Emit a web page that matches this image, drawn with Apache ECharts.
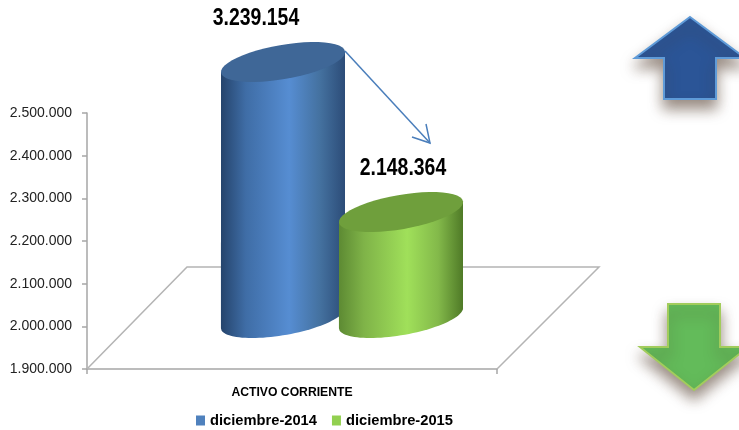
<!DOCTYPE html>
<html lang="es">

<head>
  <meta charset="UTF-8">
  <title>Activo corriente</title>
  <style>
    html, body { margin: 0; padding: 0; background: #fff; }
    #root { width: 739px; height: 430px; }
  </style>
</head>

<body>
  <div id="root"></div>
  <script src="https://cdn.jsdelivr.net/npm/echarts@6/dist/echarts.min.js"></script>
  <script>
    const categories = ['ACTIVO CORRIENTE']
    const periods = ['diciembre-2014', 'diciembre-2015']
    const values2014 = [3239154]
    const values2015 = [2148364]

    const yMin = 1900000
    const yMax = 2500000
    const yStep = 100000

    const font = '"Liberation Sans", sans-serif'

    // the cylinders stand in the middle of the floor, so they sit above the axis
    const depth = 51
    const A = 62.9, B = 17.1, TILT = 9.9 * Math.PI / 180
    const HALF = 62, SKEW = 10

    // point on the tilted ellipse
    function ell(cx, cy, t) {
      return [
        cx + A * Math.cos(t) * Math.cos(TILT) + B * Math.sin(t) * Math.sin(TILT),
        cy - A * Math.cos(t) * Math.sin(TILT) + B * Math.sin(t) * Math.cos(TILT)
      ]
    }

    function arc(cx, cy, from, to) {
      let pts = []
      for (let i = 0; i <= 48; i++) pts.push(ell(cx, cy, from + (to - from) * i / 48))
      return pts
    }

    function hGrad(stops) {
      return {
        type: 'linear', x: 0, y: 0, x2: 1, y2: 0,
        colorStops: stops.map(s => ({ offset: s[0], color: s[1] }))
      }
    }

    function cylinder(offsetX, bodyStops, topColor, labelDx) {
      return function (params, api) {
        const val = api.value(1)
        const base = api.coord([api.value(0), yMin])
        const top = api.coord([api.value(0), Math.min(val, yMax)])
        const cx = base[0] + offsetX
        const by = base[1] - depth
        const ty = top[1] - depth
        const t0 = Math.atan2(B * Math.sin(TILT), A * Math.cos(TILT))

        const body = arc(cx, by, t0, t0 + Math.PI)
        body.push([cx - HALF, ty + SKEW], [cx + HALF, ty - SKEW])

        return {
          type: 'group',
          children: [
            { type: 'polygon', shape: { points: body }, style: { fill: hGrad(bodyStops) } },
            { type: 'polygon', shape: { points: arc(cx, ty, 0, Math.PI * 2) }, style: { fill: topColor } },
            {
              type: 'text',
              x: cx + labelDx,
              y: ty - 44,
              scaleX: 0.81,
              style: {
                text: String(val).replace(/\B(?=(\d{3})+$)/g, '.'),
                font: 'bold 24px ' + font,
                fill: '#000',
                align: 'center',
                verticalAlign: 'middle'
              }
            }
          ]
        }
      }
    }

    // floor of the 3d chart, hung on the plot rectangle
    function floor(params) {
      const r = params.coordSys
      const x = r.x, y = r.y + r.height, w = r.width
      const points = [[x, y], [x + 100, y - 102], [x + 512, y - 102], [x + w, y]]
      return {
        type: 'polyline',
        shape: { points: points },
        style: { fill: 'none', stroke: '#b4b4b4', lineWidth: 1.5 }
      }
    }

    const arrowShadow = { shadowBlur: 14, shadowOffsetX: 0, shadowOffsetY: 9, shadowColor: 'rgba(70,45,30,0.55)' }

    let myChart = echarts.init(document.getElementById('root'))

    let option = {
      backgroundColor: '#fff',
      animation: false,
      grid: { left: 87, right: 242, top: 113, bottom: 61 },
      legend: {
        data: periods,
        left: 196,
        top: 413,
        padding: 0,
        itemWidth: 9,
        itemHeight: 10,
        itemGap: 15,
        icon: 'rect',
        textStyle: { fontFamily: font, fontWeight: 'bold', fontSize: 14.7, color: '#000' }
      },
      xAxis: {
        type: 'category',
        data: categories,
        axisLine: { lineStyle: { color: '#a6a6a6', width: 1.5 } },
        axisTick: { show: true, length: 5, lineStyle: { color: '#a6a6a6', width: 1.5 } },
        axisLabel: { fontFamily: font, fontWeight: 'bold', fontSize: 12.2, color: '#000', margin: 18 }
      },
      yAxis: {
        type: 'value',
        min: yMin,
        max: yMax,
        interval: yStep,
        splitLine: { show: false },
        axisLine: { show: true, lineStyle: { color: '#a6a6a6', width: 1.5 } },
        axisTick: { show: true, length: 5, lineStyle: { color: '#a6a6a6', width: 1.5 } },
        axisLabel: {
          fontFamily: font,
          fontSize: 14,
          color: '#222',
          margin: 15,
          formatter: v => String(v).replace(/\B(?=(\d{3})+$)/g, '.')
        }
      },
      series: [
        {
          type: 'custom',
          silent: true,
          data: [[0, yMin]],
          encode: { x: 0, y: 1 },
          renderItem: floor,
          z: 1
        },
        {
          name: periods[0],
          type: 'custom',
          data: values2014.map((v, i) => [i, v]),
          encode: { x: 0, y: 1 },
          itemStyle: { color: '#4f81bd' },
          clip: false,
          z: 2,
          renderItem: cylinder(-9, [[0, '#25446c'], [0.2, '#3f6da6'], [0.55, '#568dd2'], [0.8, '#44719f'], [1, '#2c4c78']], '#3f6797', -27)
        },
        {
          name: periods[1],
          type: 'custom',
          data: values2015.map((v, i) => [i, v]),
          encode: { x: 0, y: 1 },
          itemStyle: { color: '#92d050' },
          clip: false,
          z: 3,
          renderItem: cylinder(109, [[0, '#5d8a33'], [0.2, '#7fb348'], [0.55, '#a0e05a'], [0.8, '#83b94a'], [1, '#4f7a27']], '#6f9f3c', 2)
        }
      ],
      graphic: [
        // trend arrow from one cylinder to the other
        { type: 'line', shape: { x1: 345, y1: 51, x2: 430, y2: 143 }, style: { stroke: '#4a7ebb', lineWidth: 1.5 }, z: 10 },
        { type: 'polyline', shape: { points: [[412, 137], [430, 143], [426, 124]] }, style: { fill: 'none', stroke: '#4a7ebb', lineWidth: 1.5 }, z: 10 },
        // up arrow
        {
          type: 'polygon',
          shape: { points: [[690, 17], [745, 58], [716, 58], [716, 99], [664, 99], [664, 58], [635, 58]] },
          style: Object.assign({ fill: '#2b5597', stroke: '#5f9bd8', lineWidth: 2 }, arrowShadow),
          z: 10
        },
        // down arrow
        {
          type: 'polygon',
          shape: { points: [[668, 304], [720, 304], [720, 347], [748, 347], [694, 390], [640, 347], [668, 347]] },
          style: Object.assign({ fill: '#63bb5a', stroke: '#a2cc5c', lineWidth: 2 }, arrowShadow),
          z: 10
        }
      ]
    }

    myChart.setOption(option)
  </script>
</body>

</html>
